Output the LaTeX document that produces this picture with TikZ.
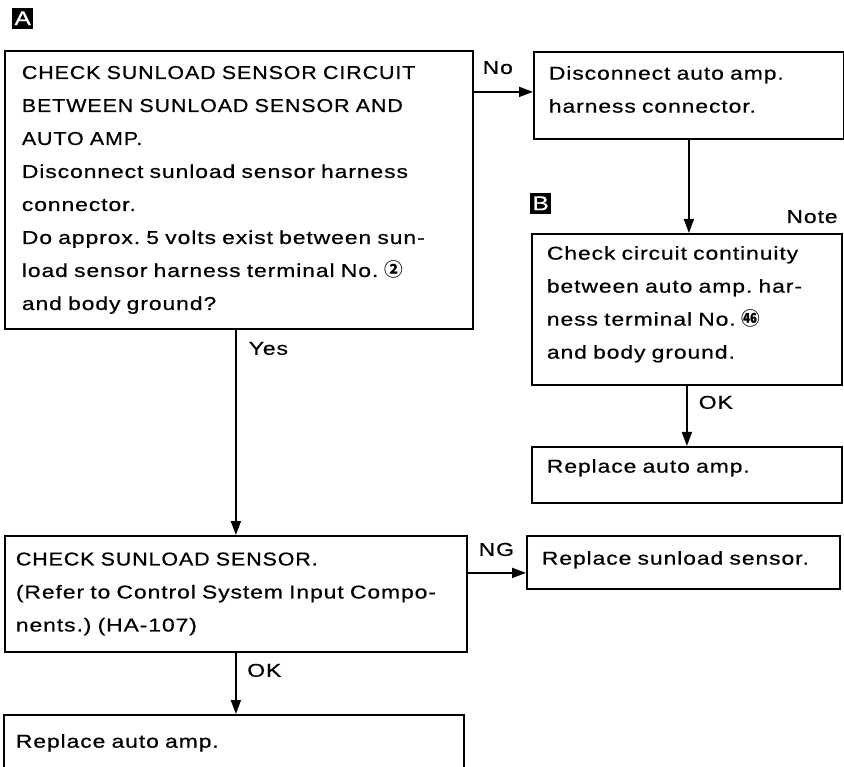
\documentclass[tikz,border=0pt]{standalone}
\usepackage{fontspec}
\setmainfont{Liberation Sans}[FakeStretch=1.23,LetterSpace=5,FakeBold=0.6]
\newfontfamily\capsfont{Liberation Sans}[FakeStretch=1.15,LetterSpace=5,FakeBold=0.6]
\newfontfamily\cjk{Noto Sans CJK SC}
\usetikzlibrary{arrows.meta,positioning,calc}

\newcommand*{\pxw}{844}
\newcommand*{\pxh}{767}
\frenchspacing

\begin{document}
\begin{tikzpicture}
[
	x=1pt, y=-1pt,
	font=\fontsize{18.6}{33}\selectfont,
	flowbox/.style={draw,line width=1.8pt,anchor=north west,inner xsep=15pt,inner ysep=0pt,align=left},
	tagbox/.style={fill=black,text=white,inner sep=0pt,minimum size=21pt,anchor=south west,font=\fontsize{20}{20}\selectfont},
	arr/.style={-{Triangle[length=14pt,width=10pt]},line width=1.8pt},
	lbl/.style={anchor=base west,inner sep=0pt}
]
	\clip (0,0) rectangle (\pxw,\pxh);

	% left column
	\node[flowbox,minimum width=468pt,minimum height=278pt,text width=434pt,inner xsep=17pt] (chkcirc) at (4,50)
		{{\capsfont CHECK SUNLOAD SENSOR CIRCUIT}\\
		{\capsfont BETWEEN SUNLOAD SENSOR AND}\\
		{\capsfont AUTO AMP.}\\
		Disconnect sunload sensor harness\\
		connector.\\
		Do approx. 5 volts exist between sun-\\
		load sensor harness terminal No.\ {\cjk\bfseries ②}\\
		and body ground?};
	\node[flowbox,minimum width=462pt,minimum height=116pt,text width=440pt,inner xsep=11pt] (chksens) at (4,535)
		{{\capsfont CHECK SUNLOAD SENSOR.}\\
		(Refer to Control System Input Compo-\\
		nents.) (HA-107)};
	\node[flowbox,minimum width=460pt,minimum height=56pt,text width=436pt,inner xsep=12pt] (replamp) at (3,714)
		{Replace auto amp.};

	% right column
	\node[flowbox,minimum width=310pt,minimum height=87pt,text width=280pt,text depth=45pt] (discamp) at (533,51)
		{Disconnect auto amp.\\
		harness connector.};
	\node[flowbox,minimum width=310pt,minimum height=151pt,text width=280pt,text depth=113pt] (chkcont) at (531,233)
		{Check circuit continuity\\
		between auto amp. har-\\
		ness terminal No.\ {\cjk\bfseries ㊻}\\
		and body ground.};
	\node[flowbox,minimum width=310pt,minimum height=56pt,text width=280pt,text depth=18pt] (replampr) at (531,446)
		{Replace auto amp.};
	\node[flowbox,minimum width=313pt,minimum height=53pt,text width=283pt,text depth=9pt] (replsens) at (526,535)
		{Replace sunload sensor.};

	% tags
	\node[tagbox] (tagA) at ([xshift=8pt,yshift=21pt]chkcirc.north west) {A};
	\node[tagbox] (tagB) at ([xshift=-1pt,yshift=19pt]chkcont.north west) {B};
	\node[anchor=base east,inner sep=0pt] (note) at ([xshift=-5pt,yshift=10pt]chkcont.north east) {Note};

	% connectors
	\coordinate (noend) at ([yshift=3.5pt]discamp.west);
	\coordinate (ngend) at ([yshift=-10.5pt]replsens.west);

	\draw[arr] (chkcirc.east |- noend) -- (noend)
		node[lbl,pos=0,xshift=8pt,yshift=18pt] {No};
	\draw[arr] (discamp.south) -- (discamp.south |- chkcont.north);
	\draw[arr] (chkcont.south) -- (chkcont.south |- replampr.north)
		node[lbl,pos=0,xshift=11pt,yshift=-23pt] {OK};

	\draw[arr] (chkcirc.south -| chksens.north) -- (chksens.north)
		node[lbl,pos=0,xshift=12pt,yshift=-25pt] {Yes};
	\draw[arr] (chksens.east |- ngend) -- (ngend)
		node[lbl,pos=0,xshift=10pt,yshift=17pt] {NG};
	\draw[arr] (chksens.south) -- (chksens.south |- replamp.north)
		node[lbl,pos=0,xshift=10.5pt,yshift=-24pt] {OK};

\end{tikzpicture}
\end{document}
